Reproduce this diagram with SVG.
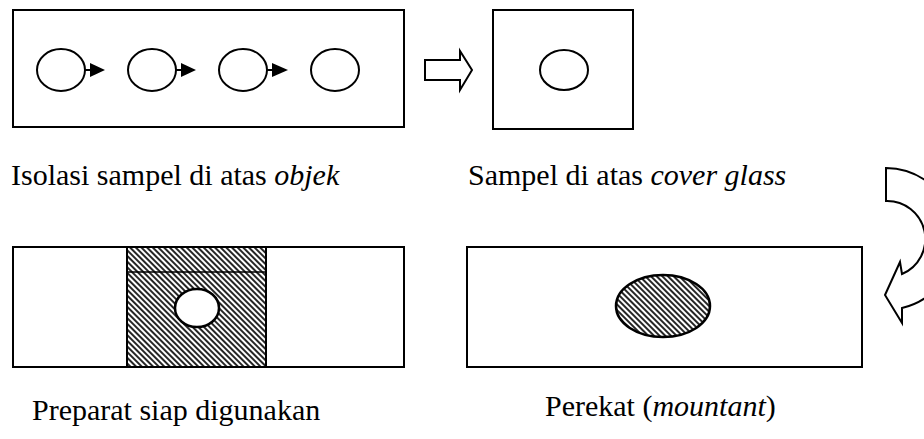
<svg xmlns="http://www.w3.org/2000/svg" width="924" height="439" viewBox="0 0 924 439">
<defs>
  <pattern id="hatch" patternUnits="userSpaceOnUse" width="4" height="4" patternTransform="rotate(-45)">
    <rect width="4" height="4" fill="#fff"/>
    <line x1="1" y1="0" x2="1" y2="4" stroke="#000" stroke-width="1.7"/>
  </pattern>
</defs>
<style>
  .box { fill: #fff; stroke: #000; stroke-width: 2; }
  .cell { fill: #fff; stroke: #000; stroke-width: 2; }
  .lbl { font-family: 'Liberation Serif', 'DejaVu Serif', serif; font-size: 30px; fill: #000; }
  .it { font-style: italic; }
  .hollow { fill: #fff; stroke: #000; stroke-width: 2; stroke-linejoin: miter; }
  .head { fill: #000; }
  .stem { stroke: #000; stroke-width: 2; }
</style>
<rect width="924" height="439" fill="#fff"/>

<g id="object-slide">
  <rect class="box" x="13" y="10" width="391" height="117"/>
  <ellipse class="cell" cx="61" cy="70" rx="24" ry="21"/>
  <ellipse class="cell" cx="152" cy="70" rx="24" ry="21"/>
  <ellipse class="cell" cx="243" cy="70" rx="24" ry="21"/>
  <ellipse class="cell" cx="335" cy="70" rx="24" ry="21"/>
  <text class="lbl" font-family="Liberation Serif, serif" x="11" y="185">Isolasi sampel di atas <tspan class="it">objek</tspan></text>
</g>

<g id="cover-glass">
  <rect class="box" x="493" y="10" width="140" height="119"/>
  <ellipse class="cell" cx="564" cy="70" rx="24" ry="20"/>
  <text class="lbl" font-family="Liberation Serif, serif" x="468" y="185">Sampel di atas <tspan class="it">cover glass</tspan></text>
</g>

<g id="mountant">
  <rect class="box" x="467" y="247" width="395" height="120"/>
  <ellipse cx="663" cy="306" rx="47" ry="31" fill="url(#hatch)" stroke="#000" stroke-width="2.5"/>
  <text class="lbl" font-family="Liberation Serif, serif" x="545" y="416">Perekat (<tspan class="it">mountant</tspan>)</text>
</g>

<g id="ready-slide">
  <rect class="box" x="13" y="247" width="391" height="120"/>
  <rect x="127" y="247" width="139" height="120" fill="url(#hatch)" stroke="#000" stroke-width="2"/>
  <line x1="127" y1="272" x2="266" y2="272" stroke="#000" stroke-width="1.5"/>
  <ellipse cx="197" cy="308" rx="22" ry="19" fill="#fff" stroke="#000" stroke-width="2.5"/>
  <text class="lbl" font-family="Liberation Serif, serif" x="32" y="420">Preparat siap digunakan</text>
</g>

<g id="connectors">
  <line class="stem" x1="85" y1="70" x2="91" y2="70"/>
  <polygon class="head" points="90,63 105,70 90,77"/>
  <line class="stem" x1="176" y1="70" x2="182" y2="70"/>
  <polygon class="head" points="181,63 196,70 181,77"/>
  <line class="stem" x1="267" y1="70" x2="273" y2="70"/>
  <polygon class="head" points="272,63 288,70 272,77"/>
  <path class="hollow" d="M425,60 L460,60 L460,51 L472,70 L460,90 L460,80 L425,80 Z"/>
  <path class="hollow" d="M886,168 A71,71 0 0 1 902,308 L902,323 L885,295 L900,262 L902,274 A38,38 0 0 0 886,201 Z"/>
</g>
</svg>
